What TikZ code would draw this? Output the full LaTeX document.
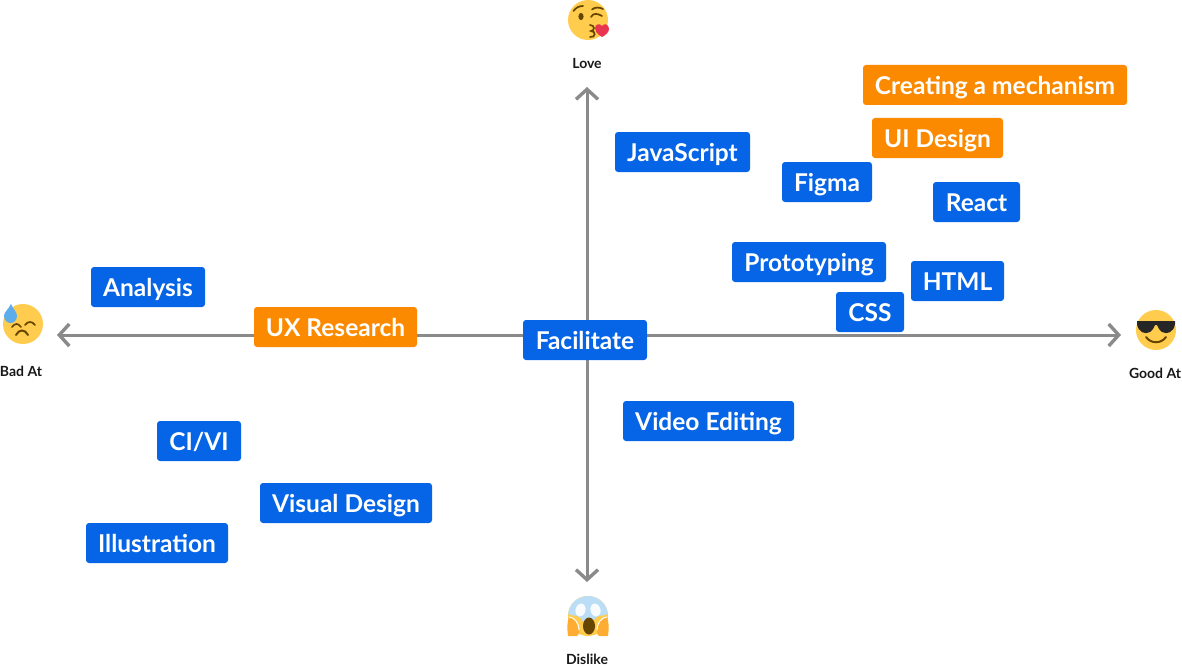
\documentclass[tikz,border=0pt]{standalone}
\usepackage{fontspec}
\setmainfont{Lato}
\usetikzlibrary{arrows.meta}
\definecolor{tagblue}{HTML}{0565E6}
\definecolor{tagorange}{HTML}{FB8A00}
\definecolor{axisgray}{HTML}{8A8A8A}
\definecolor{faceyellow}{HTML}{FFCC4D}
\definecolor{facebrown}{HTML}{664500}
\definecolor{heartred}{HTML}{E8344E}
\definecolor{dropblue}{HTML}{5DADEC}
\definecolor{screamblue}{HTML}{BBDDF5}
\definecolor{handorange}{HTML}{FFAC33}
\tikzset{
  x=1pt,y=-1pt,
  tag/.style={rounded corners=3pt,text=white,inner sep=0pt,minimum height=40pt,text height=19pt,text depth=0pt,font=\fontsize{24.5}{24.5}\selectfont\bfseries},
  bluetag/.style={tag,fill=tagblue},
  orangetag/.style={tag,fill=tagorange},
  axisline/.style={draw=axisgray,line width=3pt,{Straight Barb[length=10pt,width=22pt,line width=3.4pt]}-{Straight Barb[length=10pt,width=22pt,line width=3.4pt]}},
  caption/.style={inner sep=0pt,text=black!90,font=\fontsize{14}{14}\selectfont\bfseries},
  face/.style={fill=faceyellow,draw=none},
  feature/.style={draw=facebrown,line width=1.7pt,line cap=round,fill=none}
}
\begin{document}
\begin{tikzpicture}
\useasboundingbox (0,0) rectangle (1182,666);
\coordinate (west) at (57,335);
\coordinate (east) at (1121,335);
\coordinate (north) at (587,87);
\coordinate (south) at (587,582);
\draw[axisline] (west) -- (east);
\draw[axisline] (north) -- (south);

% Love
\begin{scope}[shift={(588,20)}]
\fill[face] (0,0) circle (20);
\fill[facebrown] (-7,-3.5) ellipse (2.6 and 3.6);
\draw[feature] (-14.5,-9) .. controls (-12,-12.5) and (-9,-14) .. (-5,-14);
\draw[feature] (3,-3) .. controls (5,-7) and (9,-7) .. (14,-4);
\draw[feature] (4,-10.5) .. controls (7,-13) and (11,-13) .. (15,-11);
\draw[feature] (2,5) .. controls (7,5) and (7,11) .. (3,11) .. controls (8,11) and (8,18) .. (2,17);
\fill[heartred] (14,17) .. controls (8,13) and (7,11) .. (7,8) .. controls (7,4) and (12,3) .. (14,6) .. controls (16,3) and (21,4) .. (21,9) .. controls (21,12) and (18,15) .. (14,17) -- cycle;
\end{scope}
\node[caption] (love) at (587,63) {Love};

% Bad At
\begin{scope}[shift={(23,324)}]
\fill[face] (0,0) circle (20);
\draw[feature] (-11,3) .. controls (-8,-1) and (-5,-1) .. (-2,3);
\draw[feature] (2,1) .. controls (5,-3) and (9,-3) .. (12,1);
\draw[feature,line width=2pt] (-7,11) .. controls (-4,5) and (2,5) .. (5,11);
\fill[dropblue] (-12,-20) .. controls (-15,-14) and (-19,-12) .. (-19,-8) .. controls (-19,-3) and (-15,-1) .. (-12.5,-1) .. controls (-9,-1) and (-6,-4) .. (-6,-8) .. controls (-6,-12) and (-10,-15) .. (-12,-20) -- cycle;
\end{scope}
\node[caption] (bad) at (21,371) {Bad At};

% Good At
\begin{scope}[shift={(1156,330)}]
\fill[face] (0,0) circle (20);
\fill[black!85] (-19,-9) -- (19,-9) -- (19,-6) .. controls (18,2) and (11,5) .. (6,2) .. controls (3,0) and (2,-3) .. (1,-5) -- (-1,-5) .. controls (-2,-3) and (-3,0) .. (-6,2) .. controls (-11,5) and (-18,2) .. (-19,-6) -- cycle;
\draw[feature,line width=2pt] (-10,7) .. controls (-5,14) and (5,14) .. (10,7);
\end{scope}
\node[caption] (good) at (1155,373) {Good At};

% Dislike
\begin{scope}[shift={(588,616)}]
\fill[face] (0,0) circle (20);
\begin{scope}
\clip (0,0) circle (20);
\fill[screamblue] (-20,-20) rectangle (20,-2);
\fill[screamblue] (-20,-2) .. controls (-12,1) and (-8,-2) .. (-5,6) -- (5,6) .. controls (8,-2) and (12,1) .. (20,-2) -- cycle;
\end{scope}
\fill[white!90!screamblue,rotate around={-15:(-7.5,-6)}] (-7.5,-6) ellipse (5 and 6.5);
\fill[white!90!screamblue,rotate around={15:(7.5,-6)}] (7.5,-6) ellipse (5 and 6.5);
\fill[facebrown] (1,10) ellipse (6 and 8.5);
\fill[handorange] (-19,1) .. controls (-13,1) and (-9,8) .. (-9,14) .. controls (-9,18) and (-10,20) .. (-11,20) -- (-20,20) .. controls (-21,12) and (-21,6) .. (-19,1) -- cycle;
\fill[handorange] (19,1) .. controls (13,1) and (9,8) .. (9,14) .. controls (9,18) and (10,20) .. (11,20) -- (20,20) .. controls (21,12) and (21,6) .. (19,1) -- cycle;
\draw[white,line width=1pt] (-19,1) .. controls (-13,1) and (-9,8) .. (-9,14);
\draw[white,line width=1pt] (19,1) .. controls (13,1) and (9,8) .. (9,14);
\end{scope}
\node[caption] (dislike) at (587,659) {Dislike};

\node[orangetag,minimum width=264pt] (mech) at (995,85) {Creating a mechanism};
\node[orangetag,minimum width=131pt] (ui) at (937.5,138) {UI Design};
\node[bluetag,minimum width=135pt] (js) at (682.5,152) {JavaScript};
\node[bluetag,minimum width=90pt] (figma) at (827,182) {Figma};
\node[bluetag,minimum width=87pt] (react) at (976.5,202) {React};
\node[bluetag,minimum width=154pt] (proto) at (809,262) {Prototyping};
\node[bluetag,minimum width=93pt] (html) at (957.5,281) {HTML};
\node[bluetag,minimum width=68pt] (css) at (870,312) {CSS};
\node[bluetag,minimum width=114pt] (analysis) at (148,287) {Analysis};
\node[orangetag,minimum width=163pt] (ux) at (335.5,327) {UX Research};
\node[bluetag,minimum width=124pt] (fac) at (585,340) {Facilitate};
\node[bluetag,minimum width=171pt] (video) at (708.5,421) {Video Editing};
\node[bluetag,minimum width=84pt] (civi) at (199,441) {CI/VI};
\node[bluetag,minimum width=172pt] (visual) at (346,503) {Visual Design};
\node[bluetag,minimum width=142pt] (illus) at (157,543) {Illustration};
\end{tikzpicture}
\end{document}
